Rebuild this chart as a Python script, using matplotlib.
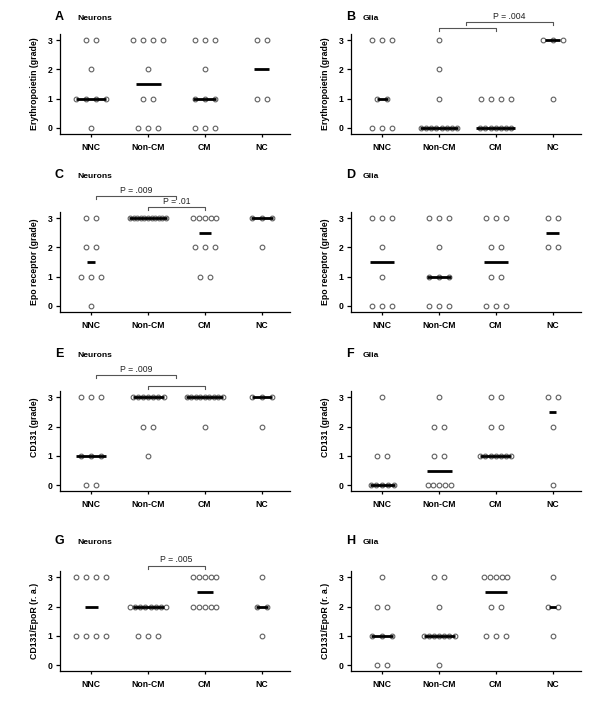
import numpy as np
import matplotlib
matplotlib.use('Agg')
import matplotlib.pyplot as plt
from collections import Counter

groups = ['NNC', 'Non-CM', 'CM', 'NC']

# grades per case, one list per group (NNC, Non-CM, CM, NC)
epo_neurons = [[3, 3, 2, 1, 1, 1, 1, 0],
               [3, 3, 3, 3, 2, 1, 1, 0, 0, 0],
               [3, 3, 3, 2, 1, 1, 1, 0, 0, 0],
               [3, 3, 1, 1]]
epo_glia = [[3, 3, 3, 1, 1, 0, 0, 0],
            [3, 2, 1, 0, 0, 0, 0, 0, 0, 0, 0],
            [1, 1, 1, 1, 0, 0, 0, 0, 0, 0, 0],
            [3, 3, 3, 1]]
epor_neurons = [[3, 3, 2, 2, 1, 1, 1, 0],
                [3, 3, 3, 3, 3, 3, 3, 3, 3, 3, 3],
                [3, 3, 3, 3, 3, 2, 2, 2, 1, 1],
                [3, 3, 3, 2]]
epor_glia = [[3, 3, 3, 2, 1, 0, 0, 0],
             [3, 3, 3, 2, 1, 1, 1, 0, 0, 0],
             [3, 3, 3, 2, 2, 1, 1, 0, 0, 0],
             [3, 3, 2, 2]]
cd131_neurons = [[3, 3, 3, 1, 1, 1, 0, 0],
                 [3, 3, 3, 3, 3, 3, 3, 2, 2, 1],
                 [3, 3, 3, 3, 3, 3, 3, 3, 3, 2],
                 [3, 3, 3, 2]]
cd131_glia = [[3, 1, 1, 0, 0, 0, 0, 0],
              [3, 2, 2, 1, 1, 0, 0, 0, 0, 0],
              [3, 3, 2, 2, 1, 1, 1, 1, 1, 1, 1],
              [3, 3, 2, 0]]
ratio_neurons = [[3, 3, 3, 3, 1, 1, 1, 1],
                 [2, 2, 2, 2, 2, 2, 2, 2, 1, 1, 1],
                 [3, 3, 3, 3, 3, 2, 2, 2, 2, 2],
                 [3, 2, 2, 1]]
ratio_glia = [[3, 2, 2, 1, 1, 1, 0, 0],
              [3, 3, 2, 1, 1, 1, 1, 1, 1, 1, 0],
              [3, 3, 3, 3, 3, 2, 2, 1, 1, 1],
              [3, 2, 2, 1]]

# significance brackets: (x from, x to, height, label)
p_epo_glia = [(1, 2, 3.41, ''), (1.48, 3, 3.60, 'P = .004')]
p_epor_neurons = [(0.08, 1.49, 3.75, 'P = .009'), (1, 2, 3.37, 'P = .01')]
p_cd131_neurons = [(0.08, 1.49, 3.76, 'P = .009'), (1, 2, 3.40, '')]
p_ratio_neurons = [(1, 2, 3.40, 'P = .005')]

plt.rcParams['font.family'] = ['Liberation Sans', 'DejaVu Sans']
plt.rcParams['font.weight'] = 'bold'

W, H = 600, 703
PXU = 56.7     # pixels per category step
PYU = 29.3     # pixels per grade step

panels = [
    ('A', 'Neurons', 'Erythropoietin (grade)', epo_neurons, [], [30, 25, 23, 15]),
    ('B', 'Glia', 'Erythropoietin (grade)', epo_glia, p_epo_glia, [11, 37, 39, 15]),
    ('C', 'Neurons', 'Epo receptor (grade)', epor_neurons, p_epor_neurons, [8, 37, 12, 22]),
    ('D', 'Glia', 'Epo receptor (grade)', epor_glia, [], [24, 24, 24, 13]),
    ('E', 'Neurons', 'CD131 (grade)', cd131_neurons, p_cd131_neurons, [30, 31, 37, 20]),
    ('F', 'Glia', 'CD131 (grade)', cd131_glia, [], [25, 25, 31, 7]),
    ('G', 'Neurons', 'CD131/EpoR (r. a.)', ratio_neurons, p_ratio_neurons, [13, 31, 16, 12]),
    ('H', 'Glia', 'CD131/EpoR (r. a.)', ratio_glia, [], [22, 31, 22, 7]),
]
row_y3 = [40, 218, 397.3, 577.3]        # pixel row of grade 3
row_title = [20.5, 177.5, 357, 544]     # baseline of panel titles
col_x = [60, 351]
ylab_y = [0.5, 0.5, 0.5, 0.5, 0.64, 0.64, 0.5, 0.5]


def offsets(n):
    if n <= 4:
        sp = 10
    elif n <= 6:
        sp = 23 / (n - 1)
    elif n == 7:
        sp = 31 / 6
    else:
        sp = 36 / (n - 1)
    return (np.arange(n) - (n - 1) / 2) * sp / PXU


fig = plt.figure(figsize=(W / 100, H / 100), dpi=100)

for k, (letter, cell, ylab, data, brackets, med_px) in enumerate(panels):
    r, c = divmod(k, 2)
    top = row_y3[r] - 0.2 * PYU
    ax = fig.add_axes([col_x[c] / W, 1 - (top + 3.4 * PYU) / H, 230 / W, 3.4 * PYU / H])
    for i, vals in enumerate(data):
        cnt = Counter(vals)
        for g, n in cnt.items():
            ax.plot(i + offsets(n), [g] * n, 'o', ms=3.4, mfc='white', mec='#606060',
                    mew=0.8, zorder=2, clip_on=False)
        m = np.median(vals)
        hw = med_px[i] / 2 / PXU
        ax.plot([i - hw, i + hw], [m, m], color='black', lw=2.0, zorder=3,
                solid_capstyle='butt', clip_on=False)
    for x1, x2, yb, lab in brackets:
        ax.plot([x1, x1, x2, x2], [yb - 0.1, yb, yb, yb - 0.1], color='#555555', lw=0.8,
                clip_on=False)
        if lab:
            ax.text((x1 + x2) / 2, yb + 0.2, lab, ha='center', va='center', fontsize=6.2,
                    fontweight='normal', color='#222222', clip_on=False)
    ax.set_xlim(-0.55, 3.5)
    ax.set_ylim(-0.2, 3.2)
    ax.set_xticks(range(4))
    ax.set_xticklabels(groups)
    ax.set_yticks([0, 1, 2, 3])
    ax.spines['top'].set_visible(False)
    ax.spines['right'].set_visible(False)
    for s in ['left', 'bottom']:
        ax.spines[s].set_linewidth(0.9)
    ax.tick_params(axis='x', length=2.5, width=0.9, pad=4, labelsize=6.2)
    ax.tick_params(axis='y', length=3, width=0.9, pad=2.5, labelsize=6.2)
    ax.set_ylabel(ylab, fontsize=6.3, fontweight='bold')
    ax.yaxis.set_label_coords(-0.092, ylab_y[k])
    lx = [55, 346][c]
    sx = [77, 363][c]
    fig.text(lx / W, 1 - row_title[r] / H, letter, fontsize=9, fontweight='bold',
             va='baseline')
    fig.text(sx / W, 1 - row_title[r] / H, cell, fontsize=6.1, fontweight='bold',
             va='baseline')

fig.savefig('out.png', dpi=100, facecolor='white')
